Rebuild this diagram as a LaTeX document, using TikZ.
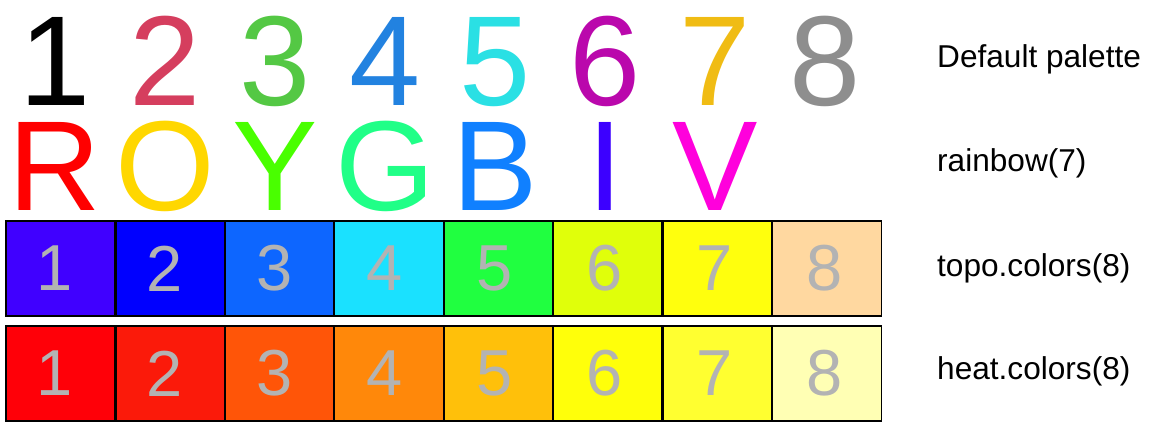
\documentclass[tikz,border=0pt]{standalone}
\usepackage{fontspec}
\setmainfont{Liberation Sans}
\usepackage{tikz}
\definecolor{pal1}{RGB}{0, 0, 0}
\definecolor{pal2}{RGB}{213, 62, 94}
\definecolor{pal3}{RGB}{84, 200, 68}
\definecolor{pal4}{RGB}{34, 130, 224}
\definecolor{pal5}{RGB}{42, 224, 228}
\definecolor{pal6}{RGB}{186, 8, 172}
\definecolor{pal7}{RGB}{240, 188, 20}
\definecolor{pal8}{RGB}{142, 142, 142}
\definecolor{rb1}{RGB}{255, 0, 0}
\definecolor{rb2}{RGB}{255, 215, 0}
\definecolor{rb3}{RGB}{73, 255, 0}
\definecolor{rb4}{RGB}{32, 255, 135}
\definecolor{rb5}{RGB}{16, 128, 255}
\definecolor{rb6}{RGB}{60, 0, 255}
\definecolor{rb7}{RGB}{255, 0, 220}
\definecolor{topo1}{RGB}{64, 0, 255}
\definecolor{topo2}{RGB}{0, 0, 255}
\definecolor{topo3}{RGB}{13, 102, 255}
\definecolor{topo4}{RGB}{26, 225, 255}
\definecolor{topo5}{RGB}{32, 255, 64}
\definecolor{topo6}{RGB}{224, 255, 10}
\definecolor{topo7}{RGB}{255, 255, 13}
\definecolor{topo8}{RGB}{255, 216, 160}
\definecolor{heat1}{RGB}{255, 0, 8}
\definecolor{heat2}{RGB}{251, 26, 10}
\definecolor{heat3}{RGB}{255, 85, 8}
\definecolor{heat4}{RGB}{255, 136, 10}
\definecolor{heat5}{RGB}{255, 192, 10}
\definecolor{heat6}{RGB}{255, 255, 10}
\definecolor{heat7}{RGB}{255, 255, 48}
\definecolor{heat8}{RGB}{255, 255, 180}
\definecolor{cellgray}{RGB}{179, 179, 179}
\tikzset{%
    bigchar/.style={%
        anchor=base,
        inner sep=0pt,
        font=\fontsize{128}{128}\selectfont
    },
    cell/.style={%
        fill=#1,
        text=cellgray,
        inner sep=0pt,
        minimum width=109.4pt,
        minimum height=94.7pt,
        font=\fontsize{65}{65}\selectfont
    },
    cellborder/.style={%
        draw=black,
        line width=1.8pt
    },
    rowlabel/.style={%
        anchor=base west,
        inner sep=0pt,
        font=\fontsize{31.6}{32}\selectfont
    }
}

\begin{document}
\begin{tikzpicture}[x=1pt, y=-1pt]

    \useasboundingbox (0, 0) rectangle (1152, 432);

    % Default palette
    \foreach \i in {1, ..., 8}{%
        \node[bigchar, text=pal\i] (digit\i) at ({55 + 110*(\i-1)}, 105) {\i};
    };
    \node[rowlabel] (defaultlabel) at (937, 67) {Default palette};

    % Rainbow letters
    \foreach \ltr [count=\i] in {R, O, Y, G, B, I, V}{%
        \node[bigchar, text=rb\i] (letter\i) at ({55 + 110*(\i-1)}, 210) {\ltr};
    };
    \node[rowlabel] (rainbowlabel) at (937, 171.5) {rainbow(7)};

    % Topo cells
    \foreach \i [evaluate=\i as \dx using {11.4 - 1.2*(\i-1)}] in {1, ..., 8}{%
        \node[cell=topo\i] (topo\i) at ({6 + 109.4*(\i-0.5)}, 268.4)
            {\hspace*{-\dx pt}\i};
    };
    \foreach \i in {1, ..., 8}{%
        \draw[cellborder] (topo\i.south west) rectangle (topo\i.north east);
    };
    \node[rowlabel] (topolabel) at (937, 276.5) {topo.colors(8)};

    % Heat cells
    \foreach \i [evaluate=\i as \dx using {11.4 - 1.2*(\i-1)}] in {1, ..., 8}{%
        \node[cell=heat\i] (heat\i) at ({6 + 109.4*(\i-0.5)}, 373.4)
            {\hspace*{-\dx pt}\i};
    };
    \foreach \i in {1, ..., 8}{%
        \draw[cellborder] (heat\i.south west) rectangle (heat\i.north east);
    };
    \node[rowlabel] (heatlabel) at (937, 379) {heat.colors(8)};

\end{tikzpicture}
\end{document}
